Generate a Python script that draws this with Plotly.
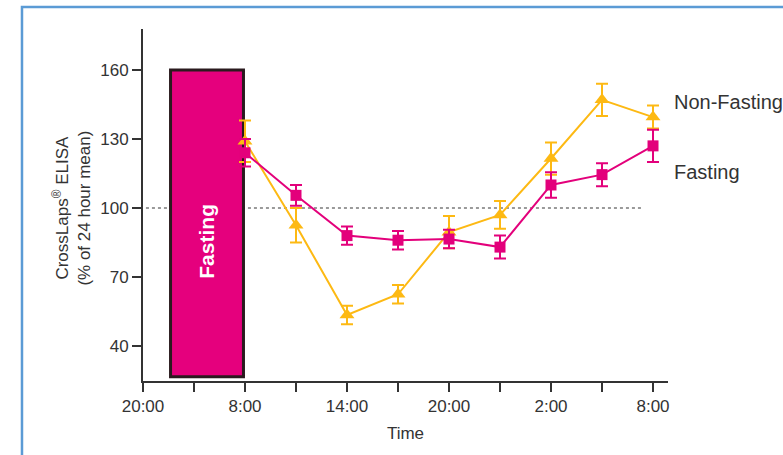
import plotly.graph_objects as go

# ---- data ----
label_positions = [0, 2, 4, 6, 8, 10]
tick_labels = ["20:00", "8:00", "14:00", "20:00", "2:00", "8:00"]
minor_positions = [1, 3, 5, 7, 9]
sample_positions = [2, 3, 4, 5, 6, 7, 8, 9, 10]

fasting_mean = [124, 105.5, 88, 86, 86.5, 83, 110, 114.5, 127]
fasting_err = [6, 4.5, 4, 4, 4, 5, 5.5, 5, 7]
nonfasting_mean = [129, 92.5, 53.5, 62.5, 89.5, 97, 121.5, 147, 139.5]
nonfasting_err = [9, 7.5, 4, 4, 7, 6, 7, 7, 5]

fasting_window = [0.54, 1.97]     # x-span of the fasting period
fasting_window_y = [26.7, 160]    # shaded bar extent
reference_level = 100
reference_span = [-0.06, 9.78]

PINK = "#E3007B"
ORANGE = "#FDB913"
AXIS = "#333333"
FONT = "Liberation Sans, Arial, Helvetica, sans-serif"

fig = go.Figure()

fig.add_trace(go.Scatter(
    x=sample_positions, y=nonfasting_mean, mode="lines+markers",
    line=dict(color=ORANGE, width=2),
    marker=dict(symbol="triangle-up", size=13, color=ORANGE),
    error_y=dict(type="data", array=nonfasting_err, color=ORANGE, thickness=2, width=6),
    showlegend=False, cliponaxis=False,
))
fig.add_trace(go.Scatter(
    x=sample_positions, y=fasting_mean, mode="lines+markers",
    line=dict(color=PINK, width=2),
    marker=dict(symbol="square", size=11, color=PINK),
    error_y=dict(type="data", array=fasting_err, color=PINK, thickness=2, width=6),
    showlegend=False, cliponaxis=False,
))

shapes = [
    dict(type="line", xref="x", yref="y", x0=reference_span[0], x1=reference_span[1],
         y0=reference_level, y1=reference_level, layer="below",
         line=dict(color="#9a9a9a", width=2, dash="dot")),
    dict(type="rect", xref="x", yref="y", x0=fasting_window[0], x1=fasting_window[1],
         y0=fasting_window_y[0], y1=fasting_window_y[1], layer="below",
         fillcolor="#E5007D", line=dict(color="#2a1a1e", width=3)),
    # outer blue frame
    dict(type="rect", xref="paper", yref="paper", x0=-0.2305, x1=1.25, y0=-0.25, y1=1.0625,
         line=dict(color="#5B9BD5", width=2.5), fillcolor="rgba(0,0,0,0)", layer="below"),
]

annotations = [
    dict(x=sum(fasting_window) / 2, y=(fasting_window_y[0] + fasting_window_y[1]) / 2 - 8,
         xref="x", yref="y", text="<b>Fasting</b>", textangle=-90, showarrow=False,
         xanchor="center", yanchor="middle",
         font=dict(family=FONT, size=21, color="white")),
    dict(x=1.008, y=nonfasting_mean[-1] + 6.5, xref="paper", yref="y", text="Non-Fasting",
         xanchor="left", yanchor="middle", showarrow=False,
         font=dict(family=FONT, size=20, color=AXIS)),
    dict(x=1.008, y=fasting_mean[-1] - 11.3, xref="paper", yref="y", text="Fasting",
         xanchor="left", yanchor="middle", showarrow=False,
         font=dict(family=FONT, size=20, color=AXIS)),
    dict(x=-0.137, y=0.49, xref="paper", yref="paper",
         text="CrossLaps<sup>®</sup> ELISA<br>(% of 24 hour mean)", textangle=-90,
         xanchor="center", yanchor="middle",
         showarrow=False, font=dict(family=FONT, size=17, color=AXIS)),
]

fig.update_layout(
    width=783, height=455,
    margin=dict(l=143, r=115, t=29, b=74),
    paper_bgcolor="white", plot_bgcolor="white",
    font=dict(family=FONT, size=17, color=AXIS),
    shapes=shapes, annotations=annotations,
    showlegend=False,
)
fig.update_xaxes(
    range=[0, 10.294], tickmode="array", tickvals=label_positions, ticktext=tick_labels,
    showline=True, linecolor=AXIS, linewidth=2, ticks="outside", ticklen=9, tickwidth=2,
    tickcolor=AXIS, showgrid=False, zeroline=False,
    minor=dict(tickmode="array", tickvals=minor_positions, ticks="outside", ticklen=9,
               tickwidth=2, tickcolor=AXIS, showgrid=False),
    title=dict(text="Time", font=dict(family=FONT, size=17, color=AXIS), standoff=12),
)
fig.update_yaxes(
    range=[24.8, 177.8], tickmode="array", tickvals=[40, 70, 100, 130, 160],
    showline=True, linecolor=AXIS, linewidth=2, ticks="outside", ticklen=9, tickwidth=2,
    tickcolor=AXIS, showgrid=False, zeroline=False,
)

fig.write_html("out.html", config={"displayModeBar": False},
               post_script="document.body.style.margin='0';document.body.style.overflow='hidden';")
